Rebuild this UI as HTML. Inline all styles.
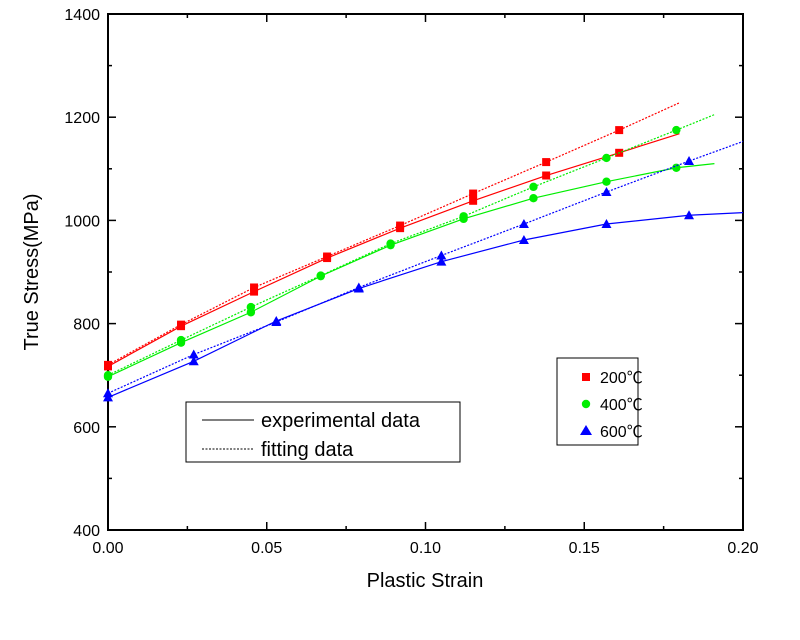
<!DOCTYPE html>
<html><head><meta charset="utf-8"><style>
body{margin:0;background:#fff;width:800px;height:635px;overflow:hidden}
text{font-family:"Liberation Sans",sans-serif;fill:#000}
</style></head><body>
<svg id="chart" width="800" height="635" xmlns="http://www.w3.org/2000/svg">
<g id="plot"></g>
</svg>
<script>
const xTicks=[0,0.05,0.10,0.15,0.20];
const xTickLabels=["0.00","0.05","0.10","0.15","0.20"];
const xMinor=[0.025,0.075,0.125,0.175];
const yTicks=[400,600,800,1000,1200,1400];
const yMinor=[500,700,900,1100,1300];
const strain200=[0,0.023,0.046,0.069,0.092,0.115,0.138,0.161];
const exp200=[717,795,862,927,985,1038,1087,1131];
const fit200=[720,798,870,930,990,1052,1113,1175];
const end200=[0.18,1168,1228];
const strain400=[0,0.023,0.045,0.067,0.089,0.112,0.134,0.157,0.179];
const exp400=[697,763,822,892,952,1003,1043,1075,1102];
const fit400=[700,768,832,893,955,1008,1065,1121,1175];
const end400=[0.191,1110,1205];
const strain600=[0,0.027,0.053,0.079,0.105,0.131,0.157,0.183];
const exp600=[657,727,805,868,920,962,993,1010];
const fit600=[665,740,803,870,932,993,1055,1115];
const end600=[0.2,1015,1153];

const NS="http://www.w3.org/2000/svg";
const g=document.getElementById('plot');
const X0=108,X1=743,Y0=530,Y1=14;
const sx=v=>X0+(v-0)/(0.2)*(X1-X0);
const sy=v=>Y0-(v-400)/1000*(Y0-Y1);
function mk(t,a){const e=document.createElementNS(NS,t);for(const k in a)e.setAttribute(k,a[k]);g.appendChild(e);return e;}

const frame=mk('rect',{x:X0,y:Y1,width:X1-X0,height:Y0-Y1,fill:'none',stroke:'#000','stroke-width':2});


function xt(v,len){
  const t=mk('line',{x1:sx(v),x2:sx(v),y1:Y0,y2:Y0-len,stroke:'#000','stroke-width':1.5});
  
  
  const t2=mk('line',{x1:sx(v),x2:sx(v),y1:Y1,y2:Y1+len,stroke:'#000','stroke-width':1.5});
  
  
}
function yt_(v,len){
  const t=mk('line',{x1:X0,x2:X0+len,y1:sy(v),y2:sy(v),stroke:'#000','stroke-width':1.5});
  
  
  const t2=mk('line',{x1:X1,x2:X1-len,y1:sy(v),y2:sy(v),stroke:'#000','stroke-width':1.5});
  
  
}
xMinor.forEach(v=>xt(v,4));
yMinor.forEach(v=>yt_(v,4));
xTicks.forEach((v,i)=>{
  xt(v,8);
  const l=mk('text',{x:sx(v),y:553,'text-anchor':'middle','font-size':16});
  l.textContent=xTickLabels[i];
  
  
});
yTicks.forEach(v=>{
  yt_(v,8);
  const l=mk('text',{x:100,y:sy(v)+6,'text-anchor':'end','font-size':16});
  l.textContent=v;
  
  
});
const xt2=mk('text',{x:425,y:587,'text-anchor':'middle','font-size':20});
xt2.textContent='Plastic Strain';


const yt=mk('text',{x:38,y:272,'text-anchor':'middle','font-size':20,transform:'rotate(-90 38 272)'});
yt.textContent='True Stress(MPa)';



function series(xs,ys,end,endIdx,color,dash,name,marker){
  const pts=xs.map((x,i)=>sx(x)+','+sy(ys[i]));
  pts.push(sx(end[0])+','+sy(end[endIdx]));
  const p=mk('polyline',{points:pts.join(' '),fill:'none',stroke:color,'stroke-width':1.2});
  if(dash)p.setAttribute('stroke-dasharray','2,1.5');
  
  
  xs.forEach((x,i)=>{
    const cx=sx(x),cy=sy(ys[i]);let m;
    if(marker==='sq')m=mk('rect',{x:cx-4,y:cy-4,width:8,height:8,fill:color});
    else if(marker==='ci')m=mk('circle',{cx:cx,cy:cy,r:4.2,fill:color});
    else m=mk('polygon',{points:`${cx},${cy-5} ${cx-5},${cy+4} ${cx+5},${cy+4}`,fill:color});
    
    
  });
}
series(strain200,exp200,end200,1,'#f00',false,'exp-200','sq');
series(strain200,fit200,end200,2,'#f00',true,'fit-200','sq');
series(strain400,exp400,end400,1,'#0e0',false,'exp-400','ci');
series(strain400,fit400,end400,2,'#0e0',true,'fit-400','ci');
series(strain600,exp600,end600,1,'#00f',false,'exp-600','tri');
series(strain600,fit600,end600,2,'#00f',true,'fit-600','tri');

const lb=mk('rect',{x:186,y:402,width:274,height:60,fill:'#fff',stroke:'#000','stroke-width':1});


const l1=mk('line',{x1:202,x2:254,y1:420,y2:420,stroke:'#000','stroke-width':1});


const l2=mk('line',{x1:202,x2:254,y1:449,y2:449,stroke:'#000','stroke-width':1,'stroke-dasharray':'2,1.5'});


const lt1=mk('text',{x:261,y:427,'font-size':20});lt1.textContent='experimental data';


const lt2=mk('text',{x:261,y:456,'font-size':20});lt2.textContent='fitting data';



const lb2=mk('rect',{x:557,y:358,width:81,height:87,fill:'#fff',stroke:'#000','stroke-width':1});


const ents=[['200℃','#f00','sq',377],['400℃','#0e0','ci',404],['600℃','#00f','tri',431]];
ents.forEach(e=>{
  const cx=586,cy=e[3];let m;
  if(e[2]==='sq')m=mk('rect',{x:cx-4,y:cy-4,width:8,height:8,fill:e[1]});
  else if(e[2]==='ci')m=mk('circle',{cx:cx,cy:cy,r:4.2,fill:e[1]});
  else m=mk('polygon',{points:`${cx},${cy-6} ${cx-6},${cy+4} ${cx+6},${cy+4}`,fill:e[1]});
  
  
  const t=mk('text',{x:600,y:cy+6,'font-size':16});
  t.style.fontFamily='"Liberation Sans","Noto Sans CJK SC",sans-serif';
  t.textContent=e[0];
  
  
});
</script>
</body></html>
